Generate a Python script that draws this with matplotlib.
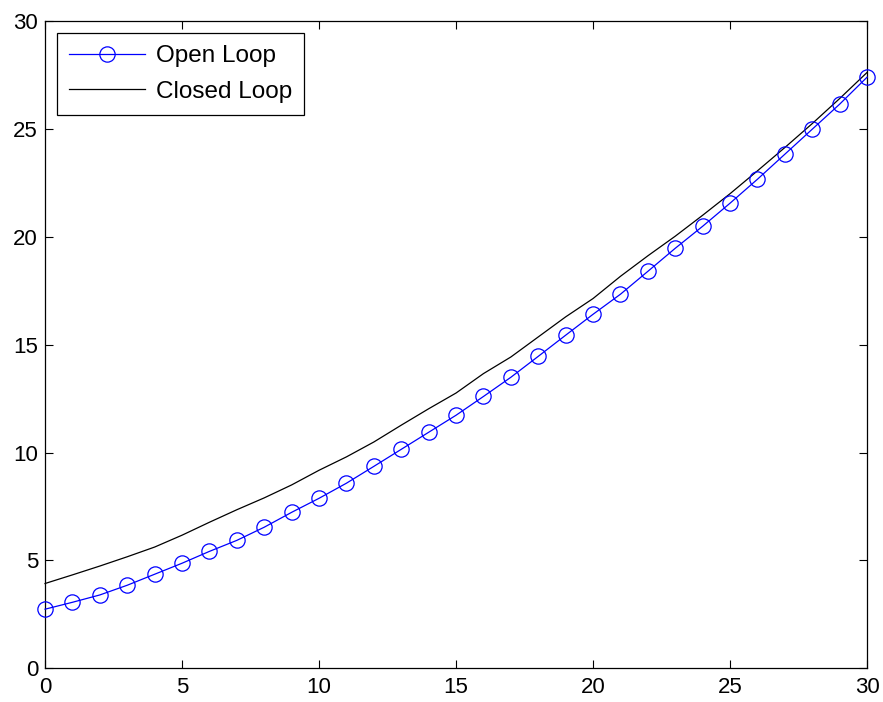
import matplotlib.pyplot as plt

plt.rcParams['font.family'] = ['Liberation Sans', 'DejaVu Sans']

# time steps
x = list(range(31))

# open loop response
open_loop = [2.74, 3.06, 3.40, 3.85, 4.36, 4.87, 5.42, 5.93, 6.54, 7.23,
             7.88, 8.58, 9.36, 10.15, 10.94, 11.73, 12.60, 13.49, 14.46, 15.44,
             16.41, 17.34, 18.40, 19.47, 20.49, 21.56, 22.67, 23.83, 24.99, 26.15,
             27.40]

# closed loop response
closed_loop = [3.93, 4.33, 4.74, 5.17, 5.62, 6.17, 6.77, 7.35, 7.90, 8.50,
               9.18, 9.80, 10.49, 11.27, 12.03, 12.76, 13.66, 14.43, 15.36, 16.29,
               17.14, 18.17, 19.12, 20.03, 21.00, 22.00, 23.06, 24.14, 25.25, 26.41,
               27.62]

fig = plt.figure(figsize=(8.83, 7.02), dpi=100)
ax = fig.add_axes([0.051, 0.048, 0.931, 0.922])

ax.plot(x, open_loop, color='#0000ff', lw=0.9, marker='o', markersize=11,
        markerfacecolor='none', markeredgecolor='#0000ff', markeredgewidth=0.9,
        label='Open Loop', clip_on=False, zorder=3)
ax.plot(x, closed_loop, color='black', lw=0.9, label='Closed Loop',
        clip_on=False, zorder=2)

ax.set_xlim(0, 30)
ax.set_ylim(0, 30)
ax.set_xticks(range(0, 31, 5))
ax.set_yticks(range(0, 31, 5))
ax.tick_params(direction='in', top=True, right=True, length=6, width=0.8,
               labelsize=16)
ax.tick_params(axis='x', pad=6)
ax.tick_params(axis='y', pad=5)
for s in ax.spines.values():
    s.set_linewidth(0.9)

leg = ax.legend(loc='upper left', fontsize=17.5, fancybox=False,
                edgecolor='black', framealpha=1, handlelength=3.1,
                borderaxespad=0.5, borderpad=0.5, handletextpad=0.45,
                labelspacing=0.55)
leg.get_frame().set_linewidth(0.9)

fig.savefig('out.png', dpi=100)
